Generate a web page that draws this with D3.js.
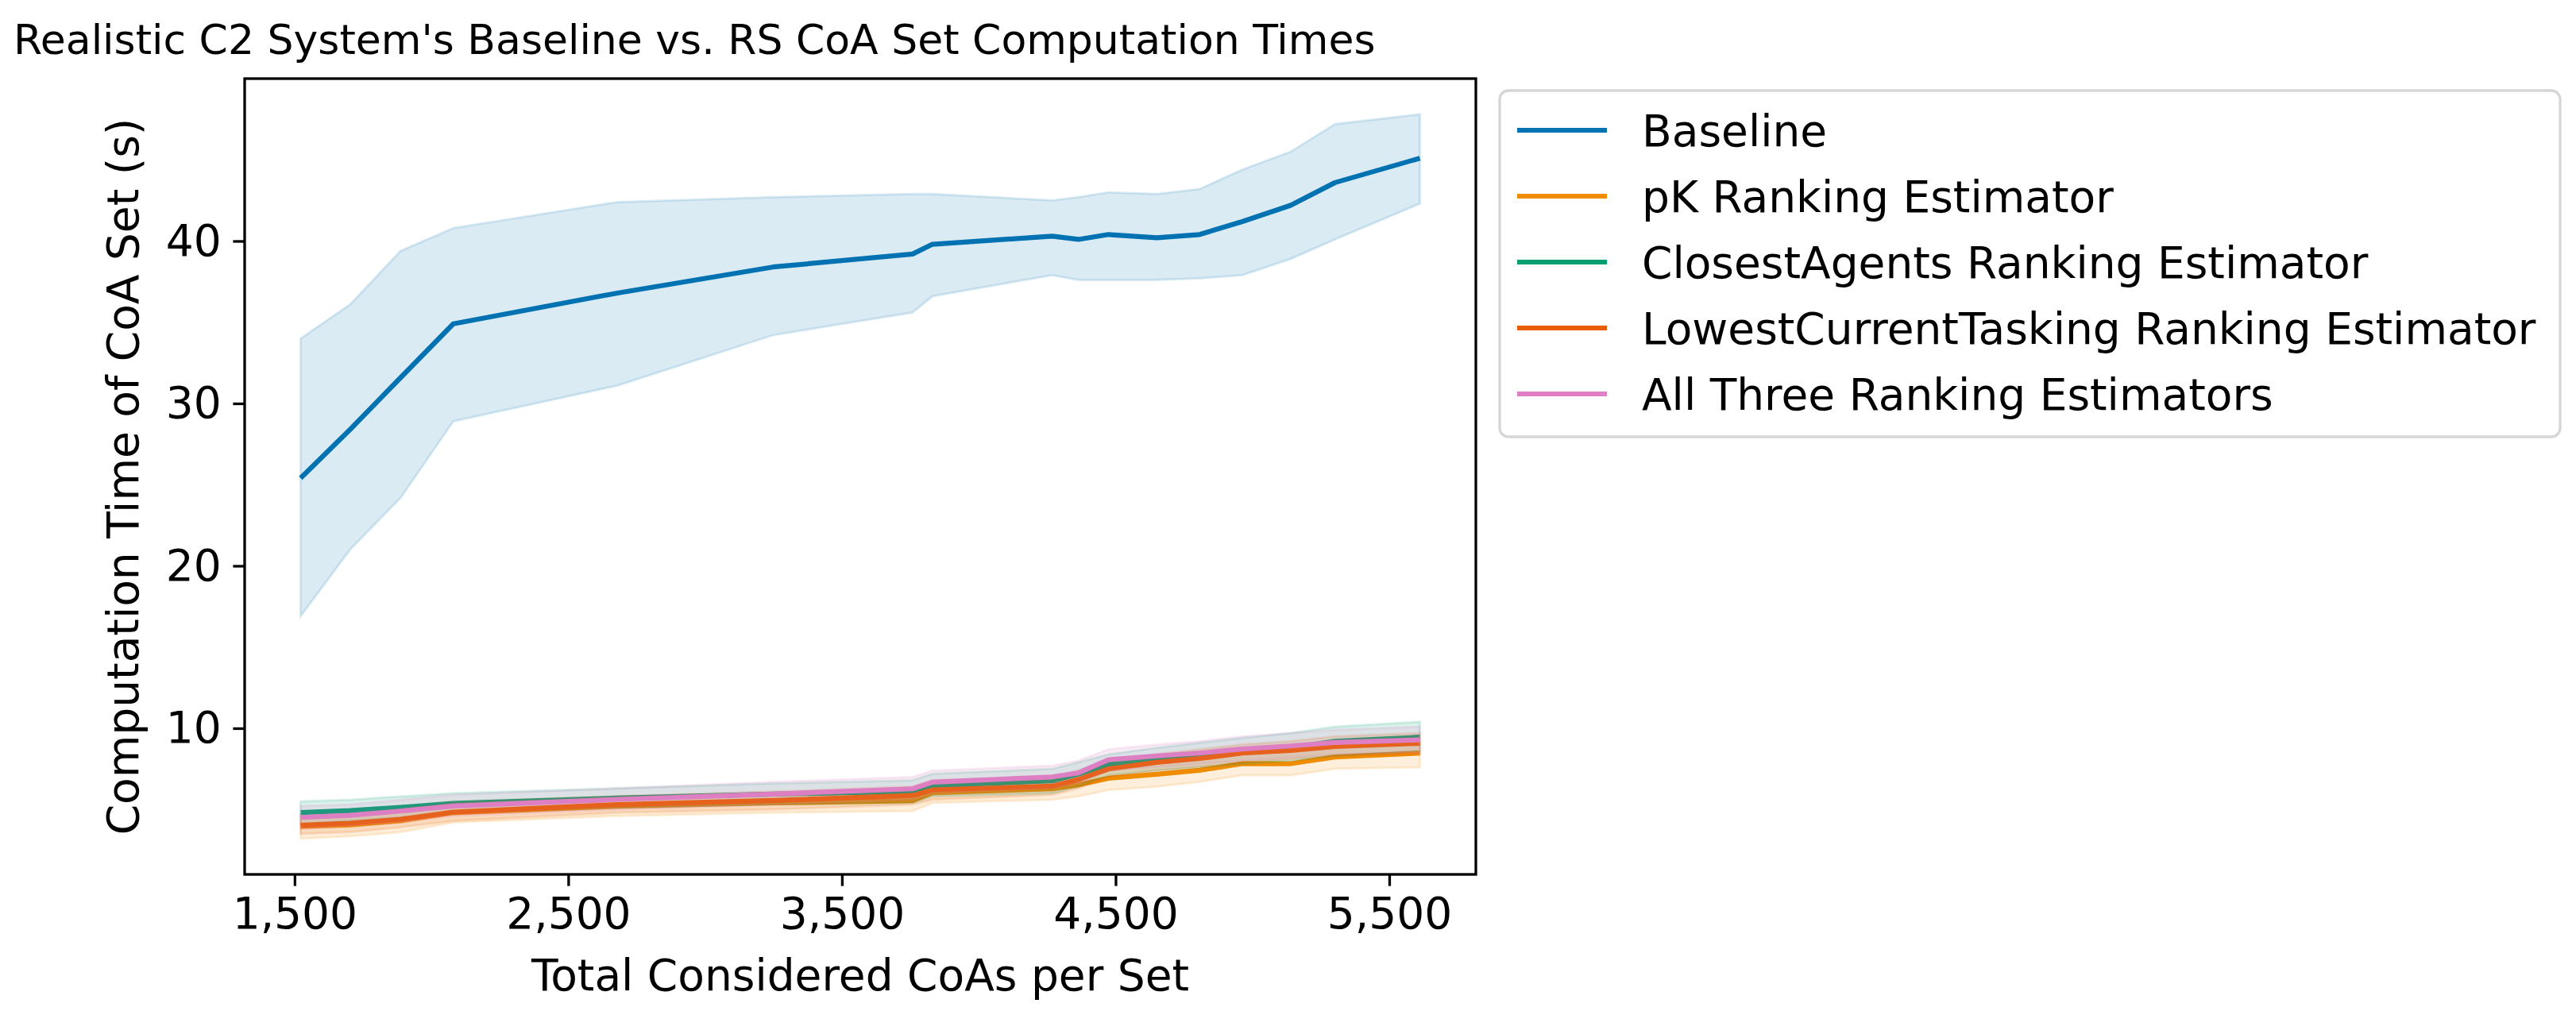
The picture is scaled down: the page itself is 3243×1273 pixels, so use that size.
<!DOCTYPE html>
<html>
<head>
<meta charset="utf-8">
<script src="https://cdn.jsdelivr.net/npm/d3@7"></script>
<style>
  html, body { margin: 0; padding: 0; background: #ffffff; }
  svg { display: block; }
  text { font-family: "DejaVu Sans", sans-serif; fill: #000; }
</style>
</head>
<body>
<script>
// ---------------- data ----------------
const title = "Realistic C2 System's Baseline vs. RS CoA Set Computation Times";
const xLabel = "Total Considered CoAs per Set";
const yLabel = "Computation Time of CoA Set (s)";

const xValues = [1522, 1703, 1888, 2080, 2680, 3248, 3758, 3831, 4268, 4364, 4474, 4651, 4807, 4963, 5140, 5302, 5612];

const seriesNames = ["Baseline", "pK Ranking Estimator", "ClosestAgents Ranking Estimator", "LowestCurrentTasking Ranking Estimator", "All Three Ranking Estimators"];
const seriesColors = ["#0173b2", "#f08c00", "#029e73", "#e85d00", "#df7fc4"];

const baselineMean = [25.4, 28.4, 31.6, 34.9, 36.8, 38.4, 39.2, 39.8, 40.3, 40.1, 40.4, 40.2, 40.4, 41.2, 42.2, 43.6, 45.1];
const baselineHi   = [34.0, 36.1, 39.4, 40.8, 42.4, 42.7, 42.9, 42.9, 42.5, 42.7, 43.0, 42.9, 43.2, 44.4, 45.5, 47.2, 47.8];
const baselineLo   = [16.9, 21.0, 24.2, 28.9, 31.1, 34.2, 35.6, 36.6, 37.9, 37.6, 37.6, 37.6, 37.7, 37.9, 38.9, 40.1, 42.3];

const pkMean = [3.95, 4.05, 4.3, 4.8, 5.2, 5.4, 5.54, 6.03, 6.27, 6.52, 6.92, 7.17, 7.41, 7.82, 7.82, 8.23, 8.47];
const pkHi   = [4.7, 4.8, 5.1, 5.5, 5.8, 6.0, 6.2, 6.7, 6.9, 7.2, 7.6, 7.9, 8.1, 8.5, 8.6, 8.9, 9.2];
const pkLo   = [3.2, 3.35, 3.6, 4.2, 4.6, 4.8, 4.9, 5.4, 5.6, 5.8, 6.2, 6.4, 6.7, 7.1, 7.1, 7.5, 7.6];

const closestMean = [4.81, 4.93, 5.13, 5.37, 5.7, 5.95, 6.1, 6.47, 6.76, 7.17, 7.77, 8.06, 8.3, 8.55, 8.8, 9.2, 9.45];
const closestHi   = [5.5, 5.6, 5.8, 6.0, 6.3, 6.6, 6.8, 7.2, 7.5, 7.9, 8.4, 8.8, 9.1, 9.4, 9.7, 10.1, 10.4];
const closestLo   = [4.1, 4.3, 4.5, 4.8, 5.1, 5.3, 5.4, 5.8, 6.0, 6.4, 7.1, 7.4, 7.6, 7.8, 8.0, 8.3, 8.6];

const lowestMean = [4.03, 4.15, 4.4, 4.84, 5.3, 5.55, 5.86, 6.2, 6.43, 6.84, 7.49, 7.9, 8.14, 8.47, 8.63, 8.88, 9.07];
const lowestHi   = [4.6, 4.7, 5.0, 5.4, 5.8, 6.1, 6.4, 6.8, 7.0, 7.4, 8.0, 8.4, 8.7, 9.0, 9.2, 9.5, 9.7];
const lowestLo   = [3.5, 3.6, 3.9, 4.3, 4.8, 5.0, 5.3, 5.6, 5.9, 6.3, 7.0, 7.4, 7.6, 7.9, 8.1, 8.3, 8.4];

const allThreeMean = [4.51, 4.64, 4.9, 5.21, 5.62, 5.95, 6.27, 6.68, 7.0, 7.25, 8.06, 8.3, 8.47, 8.72, 8.91, 9.12, 9.28];
const allThreeHi   = [5.2, 5.3, 5.6, 5.9, 6.3, 6.7, 7.0, 7.4, 7.7, 8.0, 8.7, 9.0, 9.2, 9.5, 9.7, 9.9, 10.1];
const allThreeLo   = [3.8, 4.0, 4.2, 4.6, 5.0, 5.3, 5.6, 6.0, 6.3, 6.6, 7.4, 7.6, 7.8, 8.0, 8.2, 8.4, 8.5];

const xTicks = [1500, 2500, 3500, 4500, 5500];
const yTicks = [10, 20, 30, 40];
const yDomain = [1.0, 50.0];

// ---------------- layout ----------------
const W = 3243, H = 1273;
const FS = 55;
const M = { left: 308, right: 1858, top: 99, bottom: 1101 };

const svg = d3.select("body").append("svg").attr("width", W).attr("height", H);
svg.append("rect").attr("width", W).attr("height", H).attr("fill", "#fff");

const xExt = d3.extent(xValues);
const xPad = (xExt[1] - xExt[0]) * 0.05;
const x = d3.scaleLinear().domain([xExt[0] - xPad, xExt[1] + xPad]).range([M.left, M.right]);
const y = d3.scaleLinear().domain(yDomain).range([M.bottom, M.top]);

const series = [
  { mean: baselineMean, lo: baselineLo, hi: baselineHi },
  { mean: pkMean, lo: pkLo, hi: pkHi },
  { mean: closestMean, lo: closestLo, hi: closestHi },
  { mean: lowestMean, lo: lowestLo, hi: lowestHi },
  { mean: allThreeMean, lo: allThreeLo, hi: allThreeHi }
].map((s, i) => ({ ...s, name: seriesNames[i], color: seriesColors[i] }));

const plot = svg.append("g");
svg.append("clipPath").attr("id", "clip").append("rect")
  .attr("x", M.left).attr("y", M.top).attr("width", M.right - M.left).attr("height", M.bottom - M.top);
plot.attr("clip-path", "url(#clip)");

const lineGen = d3.line().x((d, i) => x(xValues[i])).y(d => y(d));

series.forEach(s => {
  const rows = xValues.map((xv, i) => ({ x: xv, lo: s.lo[i], hi: s.hi[i] }));
  plot.append("path")
    .attr("d", lineGen(s.mean))
    .attr("fill", "none").attr("stroke", s.color).attr("stroke-width", 6.2)
    .attr("stroke-linejoin", "round").attr("stroke-linecap", "butt");
  plot.append("path")
    .attr("d", d3.area().x(d => x(d.x)).y0(d => y(d.lo)).y1(d => y(d.hi))(rows))
    .attr("fill", s.color).attr("fill-opacity", 0.14)
    .attr("stroke", s.color).attr("stroke-opacity", 0.14).attr("stroke-width", 3);
});

// ---------------- axes ----------------
const tickLen = 14.6, tickPad = 14.6;
const xAxis = svg.append("g").attr("transform", `translate(0,${M.bottom})`)
  .call(d3.axisBottom(x).tickValues(xTicks).tickFormat(d3.format(",")).tickSize(tickLen).tickPadding(tickPad));
const yAxis = svg.append("g").attr("transform", `translate(${M.left},0)`)
  .call(d3.axisLeft(y).tickValues(yTicks).tickSize(tickLen).tickPadding(tickPad));
[xAxis, yAxis].forEach(g => {
  g.select(".domain").remove();
  g.selectAll(".tick line").attr("stroke", "#000").attr("stroke-width", 3.3);
  g.selectAll(".tick text").attr("font-size", FS).attr("font-family", "DejaVu Sans").attr("fill", "#000");
});

svg.append("rect")
  .attr("x", M.left).attr("y", M.top).attr("width", M.right - M.left).attr("height", M.bottom - M.top)
  .attr("fill", "none").attr("stroke", "#000").attr("stroke-width", 3.3);

// labels
svg.append("text").attr("x", (M.left + M.right) / 2).attr("y", 1247)
  .attr("text-anchor", "middle").attr("font-size", FS).text(xLabel);
svg.append("text").attr("transform", `translate(174,${(M.top + M.bottom) / 2}) rotate(-90)`)
  .attr("text-anchor", "middle").attr("font-size", FS).text(yLabel);
svg.append("text").attr("x", 17).attr("y", 68)
  .attr("font-size", 52).text(title);

// ---------------- legend ----------------
const L = { x: 1888, y: 114, w: 1335, h: 436 };
svg.append("rect").attr("x", L.x).attr("y", L.y).attr("width", L.w).attr("height", L.h)
  .attr("rx", 11).attr("fill", "#fff").attr("fill-opacity", 0.8)
  .attr("stroke", "#d6d6d6").attr("stroke-width", 3.3);
const rowStep = 83;
series.forEach((s, i) => {
  const base = 184 + i * rowStep;
  svg.append("line").attr("x1", 1910).attr("x2", 2023)
    .attr("y1", base - 20).attr("y2", base - 20)
    .attr("stroke", s.color).attr("stroke-width", 6.2);
  svg.append("text").attr("x", 2067).attr("y", base).attr("font-size", FS).text(s.name);
});
</script>
</body>
</html>
